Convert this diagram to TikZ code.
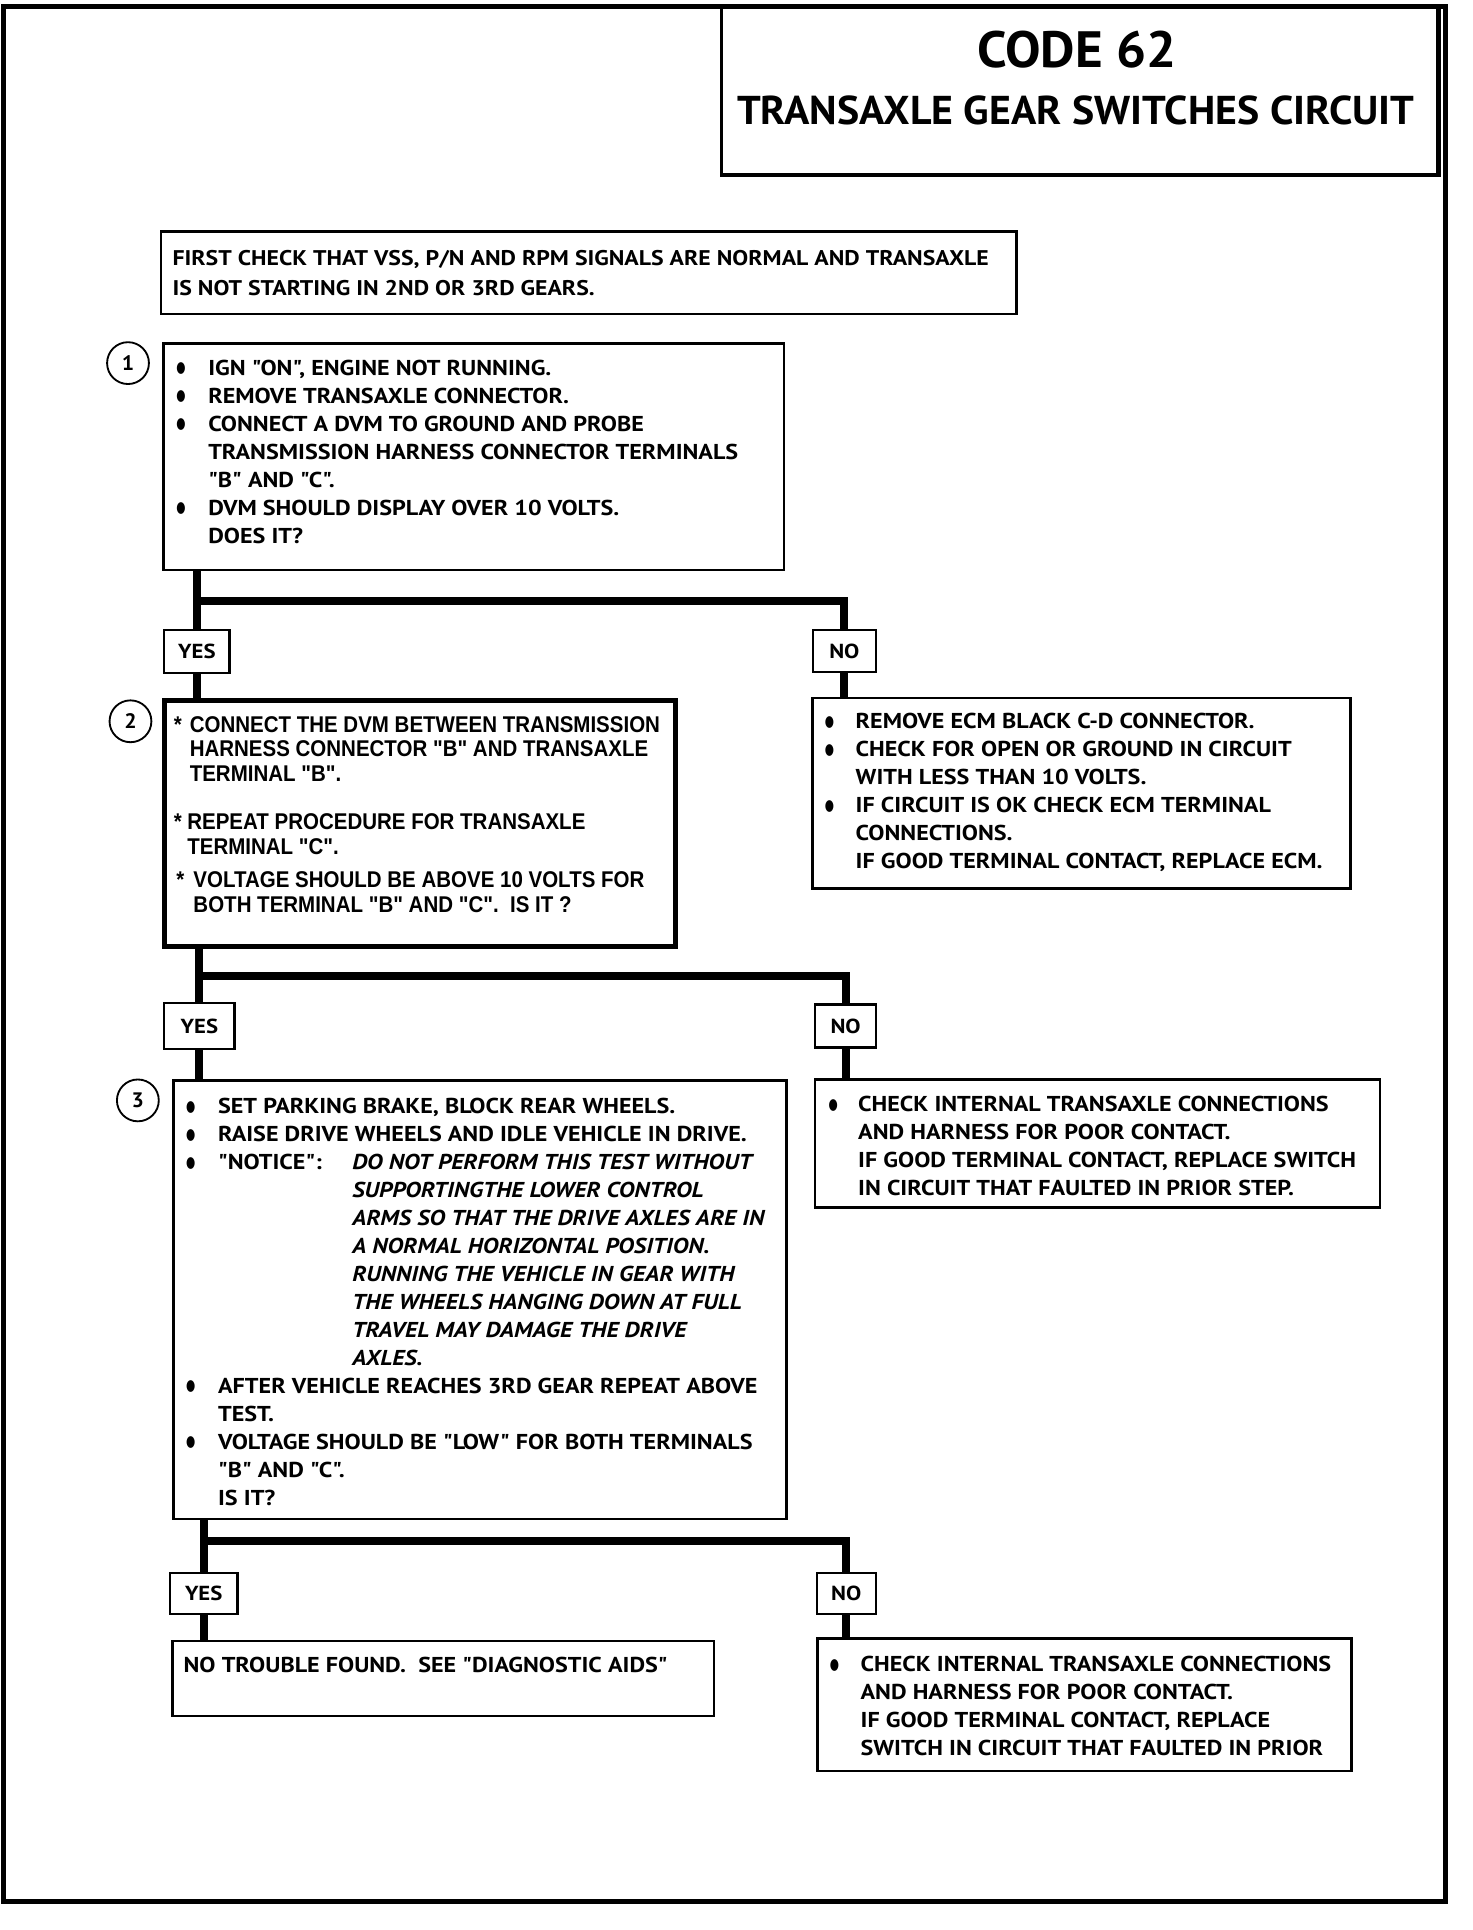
\documentclass[tikz,border=0pt]{standalone}
\usepackage{fontspec}
\usepackage{graphicx}
\setmainfont{PT Sans}
\newfontfamily\mainf[FakeStretch=1.12]{PT Sans}
\newfontfamily\titlef[FakeStretch=1.04]{PT Sans}
\newfontfamily\narrowf[FakeStretch=0.90]{Liberation Sans}
\newfontfamily\dejavu{DejaVu Sans}
\newcommand\txt{\mainf\bfseries\fontsize{17.5}{22.7}\selectfont}
\newcommand\txtfc{\mainf\bfseries\fontsize{17.25}{24}\selectfont}
\newcommand\txtn{\narrowf\bfseries\fontsize{18.5}{20}\selectfont}
\newcommand\bul{\raisebox{2pt}{\resizebox{7.5pt}{8pt}{\dejavu ●}}}
\newcommand\ntc{\hspace*{109pt}}
\tikzset{
  bx/.style={draw, rectangle, line width=2pt, inner sep=0pt, anchor=north west},
  lab/.style={draw, rectangle, line width=1.8pt, inner sep=0pt, font=\mainf\bfseries\fontsize{16.5}{18}\selectfont},
  num/.style={draw, circle, line width=1.5pt, minimum size=34pt, inner sep=0pt, font=\titlef\bfseries\fontsize{17}{18}\selectfont},
  tx/.style={anchor=base west, inner sep=0pt, align=left},
  conn/.style={line width=6.5pt, line join=miter}
}
\begin{document}
\begin{tikzpicture}[x=1pt,y=-1pt]
\useasboundingbox (0,0) rectangle (1196,1568);
% outer frame
\draw[line width=4pt] (3.2,5.3) rectangle (1174.6,1545);
% header
\node[bx, minimum width=582pt, minimum height=135pt] (hdr) at (585,5.3) {};
\draw[line width=3.5pt] (hdr.south west) -- (hdr.south east) -- (hdr.north east);
\node[anchor=base, inner sep=0pt, font=\titlef\bfseries\fontsize{41.5}{45}\selectfont] (code) at (875,54.5) {CODE 62};
\node[anchor=base, inner sep=0pt, font=\titlef\bfseries\fontsize{32.7}{36}\selectfont] (title) at (874,101.5) {TRANSAXLE GEAR SWITCHES CIRCUIT};
% first check
\node[bx, minimum width=695pt, minimum height=67pt] (fc) at (130,187) {};
\node[tx] (fct) at (140,216) {\txtfc\begin{tabular}[t]{@{}l@{}}FIRST CHECK THAT VSS, P/N AND RPM SIGNALS ARE NORMAL AND TRANSAXLE\\IS NOT STARTING IN 2ND OR 3RD GEARS.\end{tabular}};
% step 1
\node[num] (c1) at (104,295) {1};
\node[bx, minimum width=504pt, minimum height=184pt] (b1) at (132,278) {};
\node[tx] (b1t) at (143,305) {\txt\begin{tabular}[t]{@{}p{26pt}@{}l@{}}
\bul & IGN "ON", ENGINE NOT RUNNING.\\
\bul & REMOVE TRANSAXLE CONNECTOR.\\
\bul & CONNECT A DVM TO GROUND AND PROBE\\
 & TRANSMISSION HARNESS CONNECTOR TERMINALS\\
 & "B" AND "C".\\
\bul & DVM SHOULD DISPLAY OVER 10 VOLTS.\\
 & DOES IT?
\end{tabular}};
\node[lab, minimum width=53pt, minimum height=35pt] (yes1) at (160,529.5) {YES};
\node[lab, minimum width=51pt, minimum height=34pt] (no1) at (686,529) {NO};
\coordinate (j1) at (0,488);
% step 2
\node[num] (c2) at (106,586) {2};
\node[bx, line width=4pt, minimum width=415pt, minimum height=200pt] (b2) at (132,567) {};
\node[tx] (b2a) at (141,595) {\txtn\begin{tabular}[t]{@{}p{13pt}@{}l@{}}
* & CONNECT THE DVM BETWEEN TRANSMISSION\\
 & HARNESS CONNECTOR "B" AND TRANSAXLE\\
 & TERMINAL "B".
\end{tabular}};
\node[tx] (b2b) at (141,674) {\txtn\begin{tabular}[t]{@{}p{11pt}@{}l@{}}
* & REPEAT PROCEDURE FOR TRANSAXLE\\
 & TERMINAL "C".
\end{tabular}};
\node[tx] (b2c) at (143,721) {\txtn\begin{tabular}[t]{@{}p{14pt}@{}l@{}}
* & VOLTAGE SHOULD BE ABOVE 10 VOLTS FOR\\
 & BOTH TERMINAL "B" AND "C".\ \ IS IT ?
\end{tabular}};
\node[bx, minimum width=437pt, minimum height=155pt] (r1) at (659,566) {};
\node[tx] (r1t) at (670,592) {\txt\begin{tabular}[t]{@{}p{25pt}@{}l@{}}
\bul & REMOVE ECM BLACK C-D CONNECTOR.\\
\bul & CHECK FOR OPEN OR GROUND IN CIRCUIT\\
 & WITH LESS THAN 10 VOLTS.\\
\bul & IF CIRCUIT IS OK CHECK ECM TERMINAL\\
 & CONNECTIONS.\\
 & IF GOOD TERMINAL CONTACT, REPLACE ECM.
\end{tabular}};
\node[lab, minimum width=57pt, minimum height=37pt] (yes2) at (162,833.5) {YES};
\node[lab, minimum width=50pt, minimum height=35pt] (no2) at (687,833.5) {NO};
\coordinate (j2) at (0,793);
% step 3
\node[num] (c3) at (112,894) {3};
\node[bx, minimum width=498pt, minimum height=356pt] (b3) at (140,877) {};
\node[tx] (b3t) at (151,905) {\txt\begin{tabular}[t]{@{}p{26pt}@{}l@{}}
\bul & SET PARKING BRAKE, BLOCK REAR WHEELS.\\
\bul & RAISE DRIVE WHEELS AND IDLE VEHICLE IN DRIVE.\\
\bul & \makebox[109pt][l]{"NOTICE":}\textit{DO NOT PERFORM THIS TEST WITHOUT}\\
 & \ntc\textit{SUPPORTINGTHE LOWER CONTROL}\\
 & \ntc\textit{ARMS SO THAT THE DRIVE AXLES ARE IN}\\
 & \ntc\textit{A NORMAL HORIZONTAL POSITION.}\\
 & \ntc\textit{RUNNING THE VEHICLE IN GEAR WITH}\\
 & \ntc\textit{THE WHEELS HANGING DOWN AT FULL}\\
 & \ntc\textit{TRAVEL MAY DAMAGE THE DRIVE}\\
 & \ntc\textit{AXLES.}\\
\bul & AFTER VEHICLE REACHES 3RD GEAR REPEAT ABOVE\\
 & TEST.\\
\bul & VOLTAGE SHOULD BE "LOW" FOR BOTH TERMINALS\\
 & "B" AND "C".\\
 & IS IT?
\end{tabular}};
\node[bx, minimum width=459pt, minimum height=104pt] (r2) at (661,876) {};
\node[tx] (r2t) at (673,903) {\txt\begin{tabular}[t]{@{}p{24pt}@{}l@{}}
\bul & CHECK INTERNAL TRANSAXLE CONNECTIONS\\
 & AND HARNESS FOR POOR CONTACT.\\
 & IF GOOD TERMINAL CONTACT, REPLACE SWITCH\\
 & IN CIRCUIT THAT FAULTED IN PRIOR STEP.
\end{tabular}};
\node[lab, minimum width=55pt, minimum height=33pt] (yes3) at (165.5,1294.5) {YES};
\node[lab, minimum width=48pt, minimum height=33pt] (no3) at (687.5,1294.5) {NO};
\coordinate (j3) at (0,1252);
% results
\node[bx, minimum width=440pt, minimum height=61pt] (bl) at (139,1332) {};
\node[tx] (blt) at (149,1359) {\txt NO TROUBLE FOUND.\ \ SEE "DIAGNOSTIC AIDS"};
\node[bx, minimum width=434pt, minimum height=108pt] (br) at (663,1330) {};
\node[tx] (brt) at (674,1358) {\txt\begin{tabular}[t]{@{}p{25pt}@{}l@{}}
\bul & CHECK INTERNAL TRANSAXLE CONNECTIONS\\
 & AND HARNESS FOR POOR CONTACT.\\
 & IF GOOD TERMINAL CONTACT, REPLACE\\
 & SWITCH IN CIRCUIT THAT FAULTED IN PRIOR
\end{tabular}};
% connectors
\draw[conn] (yes1.north |- b1.south) -- (yes1.north);
\draw[conn] (yes1.north |- j1) -| (no1.north);
\draw[conn] (yes1.south) -- (yes1.south |- b2.north);
\draw[conn] (no1.south) -- (no1.south |- r1.north);
\draw[conn] (yes2.north |- b2.south) -- (yes2.north);
\draw[conn] (yes2.north |- j2) -| (no2.north);
\draw[conn] (yes2.south) -- (yes2.south |- b3.north);
\draw[conn] (no2.south) -- (no2.south |- r2.north);
\draw[conn] (yes3.north |- b3.south) -- (yes3.north);
\draw[conn] (yes3.north |- j3) -| (no3.north);
\draw[conn] (yes3.south) -- (yes3.south |- bl.north);
\draw[conn] (no3.south) -- (no3.south |- br.north);
\end{tikzpicture}
\end{document}
